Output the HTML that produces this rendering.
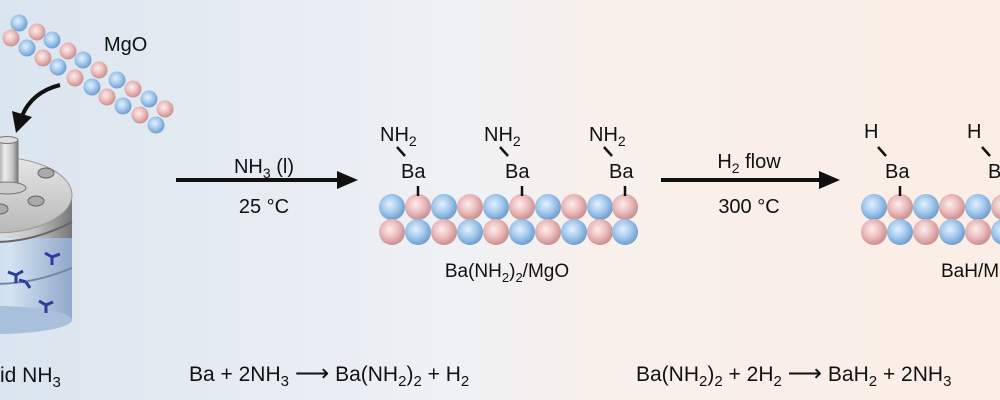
<!DOCTYPE html>
<html><head><style>
html,body{margin:0;padding:0;width:1000px;height:400px;overflow:hidden}
svg{display:block}
text{font-family:"Liberation Sans",Arial,sans-serif;fill:#111}
</style></head><body>
<svg width="1000" height="400" viewBox="0 0 1000 400" xmlns="http://www.w3.org/2000/svg">
<defs>
<linearGradient id="bg" x1="0" x2="1" y1="0" y2="0">
<stop offset="0" stop-color="#dbe5ef"/><stop offset="0.45" stop-color="#eef1f5"/><stop offset="0.6" stop-color="#f8f0ea"/><stop offset="1" stop-color="#fbeee6"/>
</linearGradient>
<radialGradient id="b" cx="0.42" cy="0.4" r="0.6"><stop offset="0" stop-color="#e4f0fb"/><stop offset="0.5" stop-color="#a9cdef"/><stop offset="1" stop-color="#6f9fcf"/></radialGradient>
<radialGradient id="p" cx="0.42" cy="0.4" r="0.6"><stop offset="0" stop-color="#fbeeee"/><stop offset="0.5" stop-color="#eec0c0"/><stop offset="1" stop-color="#c99090"/></radialGradient>
<linearGradient id="metal" x1="0" x2="1"><stop offset="0" stop-color="#888"/><stop offset="0.4" stop-color="#eee"/><stop offset="0.75" stop-color="#c4c4c4"/><stop offset="1" stop-color="#777"/></linearGradient>
<linearGradient id="lid" x1="0" x2="0" y1="0" y2="1"><stop offset="0" stop-color="#e6e6e6"/><stop offset="1" stop-color="#b8b8b8"/></linearGradient>
<linearGradient id="liq" x1="0" x2="1"><stop offset="0" stop-color="#b3c8e2"/><stop offset="0.6" stop-color="#d4e2f1"/><stop offset="1" stop-color="#8fa9c8"/></linearGradient>
</defs>
<rect width="1000" height="400" fill="url(#bg)"/>

<!-- MgO chain -->
<g>
<circle cx="19" cy="23" r="8.5" fill="url(#b)"/><circle cx="37" cy="32" r="8.5" fill="url(#p)"/><circle cx="52" cy="40" r="8.5" fill="url(#b)"/><circle cx="68" cy="51" r="8.5" fill="url(#p)"/><circle cx="83" cy="60" r="8.5" fill="url(#b)"/><circle cx="99" cy="70" r="8.5" fill="url(#p)"/><circle cx="117" cy="80" r="8.5" fill="url(#b)"/><circle cx="133" cy="89" r="8.5" fill="url(#p)"/><circle cx="149" cy="99" r="8.5" fill="url(#b)"/><circle cx="165" cy="109" r="8.5" fill="url(#p)"/>
<circle cx="11" cy="38" r="8.5" fill="url(#p)"/><circle cx="27" cy="48" r="8.5" fill="url(#b)"/><circle cx="43" cy="58" r="8.5" fill="url(#p)"/><circle cx="58" cy="67" r="8.5" fill="url(#b)"/><circle cx="75" cy="78" r="8.5" fill="url(#p)"/><circle cx="92" cy="87" r="8.5" fill="url(#b)"/><circle cx="107" cy="97" r="8.5" fill="url(#p)"/><circle cx="123" cy="106" r="8.5" fill="url(#b)"/><circle cx="140" cy="115" r="8.5" fill="url(#p)"/><circle cx="156" cy="125" r="8.5" fill="url(#b)"/>
</g>
<text x="104" y="51" font-size="20">MgO</text>
<path d="M60,85 Q32,92 22,116" stroke="#111" stroke-width="4" fill="none"/>
<path d="M12,111 L16,133 L32,117 z" fill="#111"/>

<!-- reactor -->
<rect x="-82" y="195" width="154" height="125" fill="url(#metal)"/>
<rect x="-82" y="238" width="154" height="82" fill="url(#liq)"/>
<ellipse cx="-5" cy="320" rx="77" ry="14" fill="#a9c0dc"/>
<ellipse cx="-5" cy="195" rx="77" ry="38" fill="url(#lid)" stroke="#999"/>
<path d="M-82,222 Q-5,262 72,222" stroke="#666" stroke-width="2" fill="none"/>
<path d="M-82,268 Q-5,300 72,268" stroke="#7088a8" stroke-width="2" fill="none"/>
<rect x="-4" y="140" width="22" height="48" fill="url(#metal)" stroke="#777"/>
<ellipse cx="7" cy="188" rx="19" ry="6" fill="#ccc" stroke="#777"/>
<ellipse cx="7" cy="140" rx="11" ry="3.5" fill="#ddd" stroke="#777"/>
<ellipse cx="46" cy="173" rx="8" ry="5" fill="#aaa" stroke="#666"/>
<ellipse cx="36" cy="201" rx="8" ry="5" fill="#aaa" stroke="#666"/>
<ellipse cx="0" cy="209" rx="8" ry="5" fill="#aaa" stroke="#666"/>
<g stroke="#2a3c9c" stroke-width="3" fill="none"><path d="M52,257 l-7,-4 M52,257 l8,-3 M52,257 l0,8"/><path d="M16,275 l-8,-3 M16,275 l7,-4 M16,275 l0,8"/><path d="M26,282 l-7,-2 M26,282 l4,6"/><path d="M46,305 l-7,-4 M46,305 l7,-3 M46,305 l0,8"/></g>
<text x="0" y="382" font-size="21">id NH<tspan font-size="15" dy="5">3</tspan></text>

<!-- arrow 1 -->
<line x1="176" y1="180" x2="340" y2="180" stroke="#111" stroke-width="4"/>
<path d="M337,171 L358,180 L337,189 z" fill="#111"/>
<text x="264" y="173" font-size="20" text-anchor="middle">NH<tspan font-size="14" dy="5">3</tspan><tspan dy="-5"> (l)</tspan></text>
<text x="264" y="213" font-size="20" text-anchor="middle">25 °C</text>

<!-- middle surface -->
<g>
<circle cx="392" cy="207" r="13" fill="url(#b)"/><circle cx="418" cy="207" r="13" fill="url(#p)"/><circle cx="444" cy="207" r="13" fill="url(#b)"/><circle cx="470" cy="207" r="13" fill="url(#p)"/><circle cx="496" cy="207" r="13" fill="url(#b)"/><circle cx="522" cy="207" r="13" fill="url(#p)"/><circle cx="548" cy="207" r="13" fill="url(#b)"/><circle cx="574" cy="207" r="13" fill="url(#p)"/><circle cx="600" cy="207" r="13" fill="url(#b)"/><circle cx="625" cy="207" r="13" fill="url(#p)"/>
<circle cx="392" cy="232" r="13" fill="url(#p)"/><circle cx="418" cy="232" r="13" fill="url(#b)"/><circle cx="444" cy="232" r="13" fill="url(#p)"/><circle cx="470" cy="232" r="13" fill="url(#b)"/><circle cx="496" cy="232" r="13" fill="url(#p)"/><circle cx="522" cy="232" r="13" fill="url(#b)"/><circle cx="548" cy="232" r="13" fill="url(#p)"/><circle cx="574" cy="232" r="13" fill="url(#b)"/><circle cx="600" cy="232" r="13" fill="url(#p)"/><circle cx="625" cy="232" r="13" fill="url(#b)"/>
</g>
<g font-size="20">
<text x="380" y="141">NH<tspan font-size="14" dy="5">2</tspan></text><text x="401" y="178">Ba</text>
<text x="484" y="141">NH<tspan font-size="14" dy="5">2</tspan></text><text x="505" y="178">Ba</text>
<text x="589" y="141">NH<tspan font-size="14" dy="5">2</tspan></text><text x="609" y="178">Ba</text>
</g>
<g stroke="#111" stroke-width="2.5">
<line x1="397" y1="147" x2="405" y2="156"/><line x1="418" y1="186" x2="418" y2="196"/>
<line x1="500" y1="147" x2="508" y2="156"/><line x1="522" y1="186" x2="522" y2="196"/>
<line x1="604" y1="147" x2="612" y2="156"/><line x1="625" y1="186" x2="625" y2="196"/>
</g>
<text x="507" y="277" font-size="19" text-anchor="middle">Ba(NH<tspan font-size="13" dy="5">2</tspan><tspan dy="-5">)</tspan><tspan font-size="13" dy="5">2</tspan><tspan dy="-5">/MgO</tspan></text>

<!-- arrow 2 -->
<line x1="661" y1="180" x2="822" y2="180" stroke="#111" stroke-width="4"/>
<path d="M819,171 L840,180 L819,189 z" fill="#111"/>
<text x="749" y="168" font-size="20" text-anchor="middle">H<tspan font-size="14" dy="5">2</tspan><tspan dy="-5"> flow</tspan></text>
<text x="749" y="213" font-size="20" text-anchor="middle">300 °C</text>

<!-- right surface -->
<g>
<circle cx="874" cy="207" r="13" fill="url(#b)"/><circle cx="900" cy="207" r="13" fill="url(#p)"/><circle cx="926" cy="207" r="13" fill="url(#b)"/><circle cx="952" cy="207" r="13" fill="url(#p)"/><circle cx="978" cy="207" r="13" fill="url(#b)"/><circle cx="1004" cy="207" r="13" fill="url(#p)"/>
<circle cx="874" cy="232" r="13" fill="url(#p)"/><circle cx="900" cy="232" r="13" fill="url(#b)"/><circle cx="926" cy="232" r="13" fill="url(#p)"/><circle cx="952" cy="232" r="13" fill="url(#b)"/><circle cx="978" cy="232" r="13" fill="url(#p)"/><circle cx="1004" cy="232" r="13" fill="url(#b)"/>
</g>
<g font-size="20">
<text x="864" y="138" fill="#1c2a50">H</text><text x="885" y="178">Ba</text>
<text x="967" y="138" fill="#1c2a50">H</text><text x="988" y="178">Ba</text>
</g>
<g stroke="#111" stroke-width="2.5">
<line x1="878" y1="147" x2="886" y2="156"/><line x1="900" y1="186" x2="900" y2="196"/>
<line x1="982" y1="147" x2="990" y2="156"/>
</g>
<text x="941" y="277" font-size="19">BaH/M</text>

<!-- equations -->
<text x="189" y="381" font-size="21">Ba + 2NH<tspan font-size="15" dy="5">3</tspan><tspan dy="-5"> </tspan><tspan font-size="24">⟶</tspan><tspan> Ba(NH</tspan><tspan font-size="15" dy="5">2</tspan><tspan dy="-5">)</tspan><tspan font-size="15" dy="5">2</tspan><tspan dy="-5"> + H</tspan><tspan font-size="15" dy="5">2</tspan></text>
<text x="636" y="381" font-size="21">Ba(NH<tspan font-size="15" dy="5">2</tspan><tspan dy="-5">)</tspan><tspan font-size="15" dy="5">2</tspan><tspan dy="-5"> + 2H</tspan><tspan font-size="15" dy="5">2</tspan><tspan dy="-5"> </tspan><tspan font-size="24">⟶</tspan><tspan>  BaH</tspan><tspan font-size="15" dy="5">2</tspan><tspan dy="-5"> + 2NH</tspan><tspan font-size="15" dy="5">3</tspan></text>
</svg>
</body></html>
